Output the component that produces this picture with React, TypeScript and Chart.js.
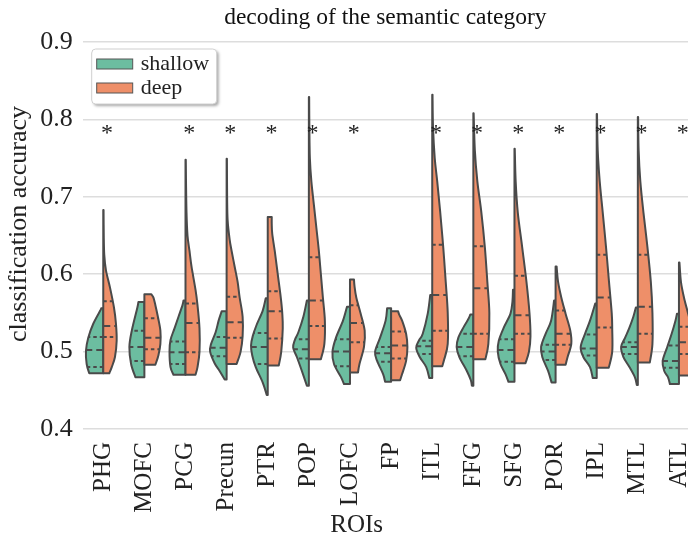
import React, { useEffect, useRef } from "react";
import { Chart, registerables } from "chart.js";
Chart.register(...registerables);

const rois = ["PHG", "MOFC", "PCG", "Precun", "PTR", "POP", "LOFC", "FP", "ITL", "FFG", "SFG", "POR", "IPL", "MTL", "ATL"];
const significant = [true, false, true, true, true, true, true, false, true, true, true, true, true, true, true];
const yTicks = [0.4, 0.5, 0.6, 0.7, 0.8, 0.9];
const seriesNames = ["shallow", "deep"];
const xTitle = "ROIs";
const yTitle = "classification accuracy";

// half-violin outlines: [accuracy, density] from the lowest to the highest value
const shallowProfiles: number[][][] = [
  [[0.472, 14], [0.484, 16.6], [0.501, 17.3], [0.518, 15], [0.536, 10], [0.553, 3], [0.556, 2]],
  [[0.467, 9], [0.484, 13.3], [0.506, 15], [0.527, 12.6], [0.557, 7], [0.564, 6]],
  [[0.47, 12], [0.48, 15], [0.5, 16], [0.515, 15], [0.53, 11], [0.545, 7], [0.56, 3], [0.566, 2]],
  [[0.464, 2], [0.475, 7], [0.485, 12], [0.5, 16.5], [0.51, 15.5], [0.525, 11], [0.54, 8], [0.552, 5]],
  [[0.444, 1], [0.46, 5], [0.48, 12], [0.495, 15.5], [0.508, 16.7], [0.52, 15], [0.535, 11], [0.553, 5], [0.569, 2]],
  [[0.456, 2], [0.475, 7], [0.493, 12], [0.505, 15.7], [0.515, 14], [0.525, 10.5], [0.545, 5.5], [0.566, 2]],
  [[0.458, 6], [0.467, 9], [0.484, 16], [0.5, 17.5], [0.518, 14], [0.54, 7], [0.558, 3]],
  [[0.461, 6], [0.471, 8], [0.488, 14], [0.5, 16], [0.518, 11], [0.54, 5.5], [0.556, 4]],
  [[0.466, 3], [0.48, 6], [0.493, 12.5], [0.505, 16], [0.515, 13], [0.523, 9.5], [0.549, 4.5], [0.573, 2]],
  [[0.456, 1.5], [0.463, 2.5], [0.475, 6.5], [0.493, 14], [0.506, 16.7], [0.518, 15], [0.531, 10], [0.542, 5], [0.548, 3]],
  [[0.461, 6], [0.471, 9], [0.484, 14], [0.5, 16.7], [0.514, 15.7], [0.531, 10.7], [0.549, 4], [0.565, 2], [0.58, 1.5]],
  [[0.46, 4], [0.475, 7.5], [0.493, 13.3], [0.506, 14.5], [0.523, 10], [0.54, 4.5], [0.566, 1.5]],
  [[0.466, 4], [0.48, 6.7], [0.493, 13.4], [0.506, 16], [0.523, 11.7], [0.54, 6.7], [0.562, 1.5]],
  [[0.457, 1], [0.467, 3], [0.48, 8.4], [0.493, 14.4], [0.506, 16.7], [0.518, 12.7], [0.531, 8.4], [0.545, 4.5], [0.557, 2]],
  [[0.458, 9], [0.467, 11], [0.475, 14.7], [0.488, 16.3], [0.506, 11.7], [0.523, 7.3], [0.54, 3.5], [0.549, 2]],
];

const deepProfiles: number[][][] = [
  [[0.472, 6], [0.48, 8.5], [0.493, 11.7], [0.514, 13.4], [0.536, 12.7], [0.557, 10.7], [0.583, 6.7], [0.605, 2.7], [0.625, 1], [0.65, 0.5], [0.683, 0.3]],
  [[0.483, 11], [0.495, 14], [0.51, 16], [0.527, 16], [0.545, 13.5], [0.56, 11], [0.57, 9], [0.574, 7]],
  [[0.47, 10], [0.48, 12], [0.5, 14], [0.53, 14], [0.56, 12], [0.58, 10], [0.61, 6], [0.63, 4], [0.65, 2], [0.68, 1], [0.72, 0.5], [0.748, 0.3]],
  [[0.484, 10], [0.5, 14], [0.52, 16], [0.545, 16], [0.57, 13], [0.59, 11], [0.61, 8], [0.63, 5], [0.645, 3], [0.67, 1], [0.7, 0.5], [0.749, 0.3]],
  [[0.482, 11], [0.5, 13.5], [0.53, 15], [0.55, 14.5], [0.57, 13], [0.6, 10], [0.63, 7], [0.652, 4.5], [0.665, 4], [0.674, 4]],
  [[0.49, 12], [0.51, 15.5], [0.54, 16], [0.57, 14], [0.6, 12], [0.63, 10], [0.66, 7.5], [0.69, 5], [0.72, 2.5], [0.75, 1], [0.79, 0.5], [0.829, 0.3]],
  [[0.473, 8], [0.484, 9.5], [0.506, 14], [0.527, 14.7], [0.549, 10.7], [0.57, 6.3], [0.585, 4.5], [0.593, 4]],
  [[0.463, 9], [0.471, 11], [0.488, 15], [0.506, 16.3], [0.523, 15], [0.54, 11], [0.548, 8], [0.552, 7]],
  [[0.481, 10], [0.49, 12], [0.51, 15.5], [0.55, 15.5], [0.59, 13.5], [0.635, 11], [0.68, 8], [0.72, 5], [0.75, 2.5], [0.79, 0.8], [0.832, 0.3]],
  [[0.49, 12], [0.51, 15], [0.55, 16], [0.59, 14], [0.635, 11.5], [0.68, 8], [0.72, 4], [0.76, 1.5], [0.808, 0.3]],
  [[0.485, 11], [0.5, 14.5], [0.52, 16], [0.55, 15], [0.59, 12], [0.635, 7.7], [0.68, 3.3], [0.72, 1.2], [0.762, 0.3]],
  [[0.483, 10], [0.493, 12], [0.51, 15.7], [0.527, 14.7], [0.549, 10], [0.57, 5.7], [0.59, 2.5], [0.61, 1]],
  [[0.479, 12], [0.5, 15.5], [0.53, 15.5], [0.55, 15], [0.59, 12.3], [0.635, 9.3], [0.68, 6], [0.72, 3], [0.76, 1], [0.807, 0.3]],
  [[0.486, 12], [0.51, 14.6], [0.55, 14.6], [0.59, 13], [0.635, 9.6], [0.68, 5.6], [0.72, 2.5], [0.76, 0.8], [0.803, 0.3]],
  [[0.469, 10], [0.49, 14], [0.51, 15], [0.53, 13], [0.55, 9], [0.57, 5], [0.59, 2], [0.615, 0.5]],
];

// [first quartile, median, third quartile]
const shallowQuartiles: number[][] = [
  [0.48, 0.502, 0.519], [0.488, 0.506, 0.527], [0.484, 0.499, 0.513], [0.494, 0.505, 0.519],
  [0.484, 0.506, 0.524], [0.491, 0.503, 0.516], [0.481, 0.5, 0.516], [0.487, 0.498, 0.506],
  [0.497, 0.507, 0.514], [0.494, 0.506, 0.523], [0.487, 0.502, 0.516], [0.489, 0.5, 0.509],
  [0.495, 0.504, 0.522], [0.497, 0.506, 0.512], [0.479, 0.488, 0.508],
];
const deepQuartiles: number[][] = [
  [0.519, 0.533, 0.565], [0.503, 0.518, 0.543], [0.499, 0.537, 0.562], [0.518, 0.538, 0.571],
  [0.517, 0.552, 0.578], [0.533, 0.566, 0.622], [0.512, 0.537, 0.56], [0.491, 0.508, 0.526],
  [0.527, 0.573, 0.638], [0.523, 0.582, 0.636], [0.523, 0.547, 0.598], [0.509, 0.523, 0.553],
  [0.531, 0.57, 0.625], [0.523, 0.558, 0.625], [0.497, 0.512, 0.532],
];
const starLevel = 0.781;

const SHALLOW_COLOR = "#6cbda0";
const DEEP_COLOR = "#ee8f69";
const LINE_COLOR = "#4a4a4a";
const DENSITY_UNIT = 1 / 41.12;
const FONT = '"Liberation Serif", "Times New Roman", serif';

function densityAt(prof: number[][], v: number) {
  if (v <= prof[0][0]) return prof[0][1];
  for (let k = 0; k < prof.length - 1; k++) {
    const [v0, d0] = prof[k];
    const [v1, d1] = prof[k + 1];
    if (v >= v0 && v <= v1) return d0 + ((d1 - d0) * (v - v0)) / (v1 - v0);
  }
  return prof[prof.length - 1][1];
}

function drawHalf(ctx: CanvasRenderingContext2D, xs: any, ys: any, i: number, side: number, prof: number[][], quart: number[], color: string) {
  const cx = xs.getPixelForValue(i);
  const pts = prof.map(([v, d]) => ({ x: xs.getPixelForValue(i + side * d * DENSITY_UNIT), y: ys.getPixelForValue(v) }));
  ctx.beginPath();
  ctx.moveTo(cx, pts[0].y);
  ctx.lineTo(pts[0].x, pts[0].y);
  for (let k = 0; k < pts.length - 1; k++) {
    const p0 = pts[Math.max(k - 1, 0)];
    const p1 = pts[k];
    const p2 = pts[k + 1];
    const p3 = pts[Math.min(k + 2, pts.length - 1)];
    ctx.bezierCurveTo(
      p1.x + (p2.x - p0.x) / 6, p1.y + (p2.y - p0.y) / 6,
      p2.x - (p3.x - p1.x) / 6, p2.y - (p3.y - p1.y) / 6,
      p2.x, p2.y
    );
  }
  ctx.lineTo(cx, pts[pts.length - 1].y);
  ctx.closePath();
  ctx.fillStyle = color;
  ctx.fill();
  ctx.lineWidth = 2;
  ctx.lineJoin = "round";
  ctx.strokeStyle = LINE_COLOR;
  ctx.stroke();
  quart.forEach((q, k) => {
    const d = densityAt(prof, q);
    const yq = ys.getPixelForValue(q);
    ctx.setLineDash(k === 1 ? [7, 4] : [3.5, 3]);
    ctx.beginPath();
    ctx.moveTo(cx, yq);
    ctx.lineTo(xs.getPixelForValue(i + side * d * DENSITY_UNIT), yq);
    ctx.stroke();
  });
  ctx.setLineDash([]);
}

export default function App() {
  const ref = useRef<HTMLCanvasElement>(null);
  useEffect(() => {
    document.body.style.margin = "0";
    const violinPlugin = {
      id: "splitViolins",
      beforeDatasetsDraw(chart: any) {
        const { ctx, scales } = chart;
        const xs = scales.x;
        const ys = scales.y;
        ctx.save();
        rois.forEach((_, i) => {
          drawHalf(ctx, xs, ys, i, -1, shallowProfiles[i], shallowQuartiles[i], SHALLOW_COLOR);
          drawHalf(ctx, xs, ys, i, 1, deepProfiles[i], deepQuartiles[i], DEEP_COLOR);
        });
        ctx.fillStyle = "#222";
        ctx.font = `24px ${FONT}`;
        ctx.textAlign = "center";
        ctx.textBaseline = "middle";
        rois.forEach((_, i) => {
          if (significant[i]) ctx.fillText("*", xs.getPixelForValue(i + 0.09), ys.getPixelForValue(starLevel));
        });
        ctx.restore();
      },
      afterDraw(chart: any) {
        const { ctx, chartArea } = chart;
        ctx.save();
        // axis titles
        ctx.fillStyle = "#222";
        ctx.font = `25px ${FONT}`;
        ctx.textAlign = "center";
        ctx.textBaseline = "middle";
        ctx.fillText(xTitle, chartArea.left + 274, chart.height - 16);
        ctx.save();
        ctx.translate(19, chartArea.top + 182);
        ctx.rotate(-Math.PI / 2);
        ctx.font = `26px ${FONT}`;
        ctx.fillText(yTitle, 0, 0);
        ctx.restore();
        // legend
        const bx = chartArea.left + 9;
        const by = chartArea.top + 7;
        const bw = 125;
        const bh = 55;
        ctx.shadowColor = "rgba(0,0,0,0.35)";
        ctx.shadowBlur = 3;
        ctx.shadowOffsetX = 2;
        ctx.shadowOffsetY = 2;
        ctx.beginPath();
        ctx.roundRect(bx, by, bw, bh, 4);
        ctx.fillStyle = "#fff";
        ctx.fill();
        ctx.shadowColor = "transparent";
        ctx.strokeStyle = "#d0d0d0";
        ctx.lineWidth = 1;
        ctx.stroke();
        const colors = [SHALLOW_COLOR, DEEP_COLOR];
        seriesNames.forEach((name, k) => {
          const cy = by + 15 + k * 24;
          ctx.fillStyle = colors[k];
          ctx.fillRect(bx + 5, cy - 5, 36, 10);
          ctx.strokeStyle = "#555";
          ctx.lineWidth = 1;
          ctx.strokeRect(bx + 5, cy - 5, 36, 10);
          ctx.fillStyle = "#222";
          ctx.font = `22px ${FONT}`;
          ctx.textAlign = "left";
          ctx.textBaseline = "middle";
          ctx.fillText(name, bx + 49, cy);
        });
        ctx.restore();
      },
    };

    const chart = new Chart(ref.current!, {
      type: "scatter",
      data: {
        datasets: [
          { label: seriesNames[0], data: shallowQuartiles.map((q, i) => ({ x: i, y: q[1] })), pointRadius: 0 },
          { label: seriesNames[1], data: deepQuartiles.map((q, i) => ({ x: i, y: q[1] })), pointRadius: 0 },
        ],
      },
      options: {
        animation: false,
        responsive: false,
        devicePixelRatio: 1,
        layout: { padding: 0 },
        plugins: {
          legend: { display: false },
          tooltip: { enabled: false },
          title: {
            display: true,
            text: "decoding of the semantic category",
            fullSize: false,
            color: "#111",
            font: { family: FONT, size: 23.5, weight: "normal", lineHeight: 1.2 },
            padding: { top: 4, bottom: 9.8 },
          },
        },
        scales: {
          x: {
            type: "linear",
            min: -0.5,
            max: 14.22,
            grid: { display: false, drawTicks: false },
            border: { display: false },
            afterBuildTicks: (s: any) => { s.ticks = rois.map((_, i) => ({ value: i })); },
            afterFit: (s: any) => { s.height = 112; s.paddingLeft = 0; s.paddingRight = 0; },
            ticks: {
              autoSkip: false,
              minRotation: 90,
              maxRotation: 90,
              padding: 13,
              color: "#222",
              font: { family: FONT, size: 25 },
              callback: (v: any) => rois[Math.round(Number(v))] ?? "",
            },
          },
          y: {
            min: 0.4,
            max: 0.9,
            grid: { color: "#dddddd", lineWidth: 1.5, drawTicks: false },
            border: { display: false },
            afterBuildTicks: (s: any) => { s.ticks = yTicks.map((v) => ({ value: v })); },
            afterFit: (s: any) => { s.width = 82.7; s.paddingTop = 0; s.paddingBottom = 0; },
            ticks: {
              padding: 10,
              color: "#222",
              font: { family: FONT, size: 26 },
              callback: (v: any) => Number(v).toFixed(1),
            },
          },
        },
      },
      plugins: [violinPlugin],
    } as any);
    return () => chart.destroy();
  }, []);
  return (
    <div style={{ width: 688, height: 541 }}>
      <canvas ref={ref} width={688} height={541} style={{ display: "block" }} />
    </div>
  );
}
